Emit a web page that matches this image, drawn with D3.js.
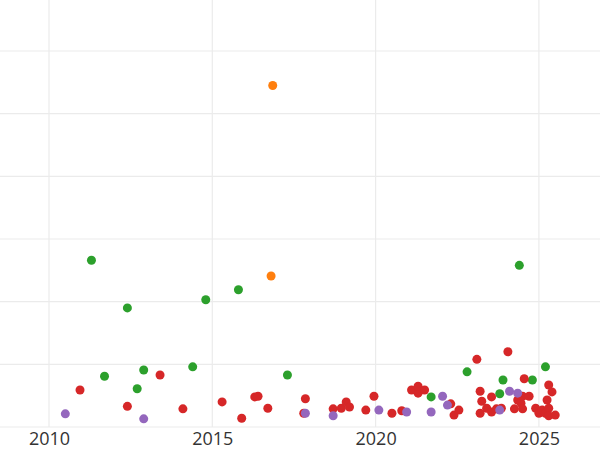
<html>
<head>
<script src="https://d3js.org/d3.v7.min.js"></script>
<style>
  body { margin: 0; background: white; }
  text { font-family: "Open Sans", sans-serif; }
</style>
</head>
<body>
<svg id="chart" width="600" height="450"></svg>
<script>
const greenX = [2011.3, 2012.4, 2011.7, 2012.7, 2012.9, 2014.4, 2014.8, 2015.8, 2017.3, 2021.7, 2022.8, 2023.8, 2023.9, 2024.4, 2024.8, 2025.2];
const greenY = [2.66, 1.90, 0.81, 0.61, 0.91, 0.96, 2.03, 2.19, 0.83, 0.48, 0.88, 0.53, 0.75, 2.58, 0.75, 0.96];
const redX = [2010.95, 2012.4, 2013.4, 2014.1, 2015.3, 2015.9, 2016.3, 2016.4, 2016.7, 2017.85, 2017.8, 2018.7, 2018.95, 2019.1, 2019.2, 2019.7, 2019.95, 2020.5, 2020.8, 2021.1, 2021.3, 2021.3, 2021.5, 2022.3, 2022.4, 2022.55, 2023.1, 2023.2, 2023.25, 2023.2, 2023.4, 2023.55, 2023.55, 2023.7, 2023.85, 2024.05, 2024.25, 2024.35, 2024.45, 2024.55, 2024.5, 2024.5, 2024.7, 2024.9, 2025.0, 2025.1, 2025.2, 2025.25, 2025.3, 2025.3, 2025.4, 2025.3, 2025.5];
const redY = [0.59, 0.33, 0.83, 0.29, 0.40, 0.14, 0.48, 0.49, 0.30, 0.45, 0.22, 0.29, 0.30, 0.40, 0.32, 0.27, 0.49, 0.22, 0.26, 0.59, 0.54, 0.65, 0.59, 0.37, 0.19, 0.27, 1.08, 0.57, 0.41, 0.22, 0.30, 0.48, 0.24, 0.29, 0.30, 1.20, 0.29, 0.43, 0.38, 0.77, 0.49, 0.29, 0.49, 0.30, 0.22, 0.27, 0.22, 0.43, 0.30, 0.67, 0.56, 0.18, 0.19];
const purpleX = [2010.5, 2012.9, 2017.85, 2018.7, 2020.1, 2020.95, 2021.7, 2022.05, 2022.2, 2023.8, 2024.1, 2024.35];
const purpleY = [0.21, 0.13, 0.22, 0.18, 0.27, 0.24, 0.24, 0.49, 0.35, 0.27, 0.57, 0.54];
const orangeX = [2016.85, 2016.8];
const orangeY = [5.45, 2.41];
const xTicks = [2010, 2015, 2020, 2025];
const yGrid = [0, 1, 2, 3, 4, 5, 6];

const svg = d3.select("#chart");
const x = d3.scaleLinear().domain([2008.5, 2026.87]).range([0, 600]);
const y = d3.scaleLinear().domain([0, 6]).range([427, 51]);

// grid
svg.selectAll("line.h").data(yGrid).join("line")
  .attr("x1", 0).attr("x2", 600)
  .attr("y1", d => y(d)).attr("y2", d => y(d))
  .attr("stroke", "#ebebeb").attr("stroke-width", 1.2);
svg.selectAll("line.v").data(xTicks).join("line")
  .attr("x1", d => x(d)).attr("x2", d => x(d))
  .attr("y1", 0).attr("y2", 427)
  .attr("stroke", "#ebebeb").attr("stroke-width", 1.2);

const axis = svg.append("g").attr("transform", "translate(0,427)")
  .call(d3.axisBottom(x).tickValues(xTicks).tickFormat(d3.format("d")).tickSize(0).tickPadding(5));
axis.select(".domain").remove();
axis.selectAll("text").attr("font-size", 18).attr("fill", "#333");

const series = [
  [greenX, greenY, "#2ca02c"],
  [redX, redY, "#d62728"],
  [purpleX, purpleY, "#9467bd"],
  [orangeX, orangeY, "#ff7f0e"]
];
series.forEach(([xs, ys, c]) => {
  svg.append("g").selectAll("circle").data(xs).join("circle")
    .attr("cx", d => x(d))
    .attr("cy", (d, i) => y(ys[i]))
    .attr("r", 4.5)
    .attr("fill", c);
});
</script>
</body>
</html>
